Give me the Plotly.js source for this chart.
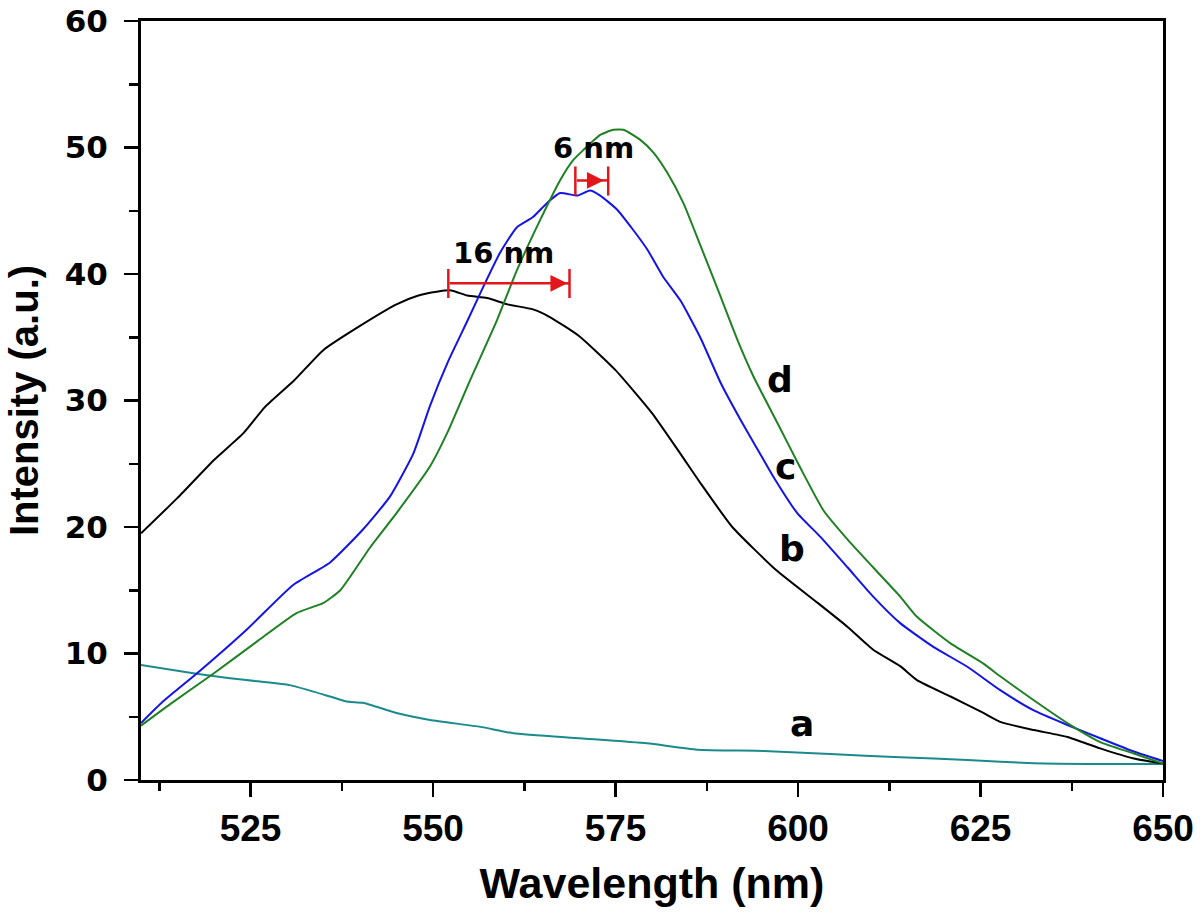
<!DOCTYPE html>
<html>
<head>
<meta charset="utf-8">
<script src="https://cdn.plot.ly/plotly-3.0.1.min.js"></script>
<style>html,body{margin:0;padding:0;background:#fff;}#chart{width:1200px;height:913px;}</style>
</head>
<body>
<div id="chart"></div>
<script>
// Series a (teal)
const wlA = [510, 517.6, 522.2, 526, 530.4, 535.9, 538.2, 540.4, 545, 549.6, 556.5, 561, 570.2, 579.3, 586.2, 595.3, 604.4, 614, 623.2, 632.3, 641.4, 650];
const intA = [9.1, 8.4, 8.05, 7.8, 7.5, 6.6, 6.2, 6.1, 5.3, 4.75, 4.2, 3.7, 3.3, 2.9, 2.4, 2.3, 2.05, 1.8, 1.58, 1.32, 1.26, 1.26];
// Series b (black)
const wlB = [510, 515, 520, 524, 527, 531, 535, 540, 545, 548, 550.5, 552.5, 554.7, 557.4, 560.2, 563.7, 566, 570, 575, 580, 584, 586.6, 591, 597, 602.7, 606.8, 610.3, 614, 616.3, 620.9, 625.4, 627.7, 632.3, 636.9, 641.4, 646, 650];
const intB = [19.5, 22.3, 25.3, 27.4, 29.5, 31.6, 34.0, 35.9, 37.6, 38.3, 38.6, 38.7, 38.3, 38.1, 37.6, 37.2, 36.6, 35.1, 32.4, 29.0, 25.7, 23.5, 20.0, 16.6, 14.0, 12.1, 10.3, 9.0, 7.9, 6.6, 5.3, 4.6, 3.95, 3.4, 2.5, 1.7, 1.3];
// Series c (blue)
const wlC = [510, 513, 517.6, 524.5, 530.8, 535.9, 540.4, 544.1, 547.3, 549.6, 552, 554.8, 556.9, 559.2, 561.5, 563.7, 565.6, 567.4, 569.8, 571.5, 572.9, 575.2, 577.4, 579.4, 581.5, 583.9, 586.6, 589.4, 592.1, 594.8, 596.6, 599.9, 603.1, 606.8, 610.3, 614, 618.6, 623.2, 627.7, 632.3, 636.9, 641.4, 646, 650];
const intC = [4.5, 6.2, 8.4, 11.9, 15.4, 17.2, 19.8, 22.4, 25.8, 29.6, 33.0, 36.4, 39.0, 41.7, 43.7, 44.5, 45.6, 46.4, 46.2, 46.6, 46.2, 45.1, 43.5, 41.9, 39.8, 37.9, 35.0, 31.4, 28.5, 25.8, 24.0, 21.1, 19.2, 16.8, 14.5, 12.4, 10.5, 8.95, 7.1, 5.5, 4.35, 3.3, 2.25, 1.5];
// Series d (green)
const wlD = [510, 514, 519.9, 526, 531.3, 535, 537.3, 541.4, 545, 549.6, 552, 555, 558.8, 561.5, 564.7, 567.4, 569.2, 570.6, 572.9, 574.7, 576.1, 578.4, 580.2, 582.1, 584.3, 586.6, 589, 591.7, 593.9, 597.2, 600.3, 603.5, 606.8, 610.3, 614, 616.3, 620.9, 625.4, 627.7, 632.3, 636.9, 641.4, 646, 650];
const intD = [4.3, 6.0, 8.4, 11.0, 13.2, 14.0, 15.0, 18.4, 21.1, 24.8, 27.5, 31.5, 36.4, 40.3, 44.3, 47.4, 49.0, 49.8, 51.0, 51.4, 51.4, 50.6, 49.6, 48.0, 45.6, 42.3, 38.8, 34.8, 31.9, 28.2, 24.7, 21.3, 19.0, 16.8, 14.5, 12.9, 10.8, 9.2, 8.2, 6.3, 4.5, 3.0, 2.1, 1.3];

const seriesLabels = ['a', 'b', 'c', 'd'];
const shiftLabels = ['16 nm', '6 nm'];

const mk = (x, y, c) => ({x: x, y: y, type: 'scatter', mode: 'lines', line: {color: c, width: 2, shape: 'spline', smoothing: 0.5}, hoverinfo: 'skip', showlegend: false});
const data = [
  mk(wlA, intA, '#1b8a8c'),
  mk(wlB, intB, '#000000'),
  mk(wlC, intC, '#1414e6'),
  mk(wlD, intD, '#1f8024')
];

const red = '#e3161c';
const arial = 'Liberation Sans, Arial, sans-serif';
const wide = 'DejaVu Sans, sans-serif';

const labelPos = [[600.6, 4.5], [599.2, 18.3], [598.3, 24.8], [597.6, 31.7]];
const annotations = seriesLabels.map((t, i) => ({
  x: labelPos[i][0], y: labelPos[i][1], xref: 'x', yref: 'y', text: '<b>' + t + '</b>', showarrow: false,
  font: {family: wide, size: 36, color: '#000'}
}));
annotations.push({x: 559.7, y: 41.7, xref: 'x', yref: 'y', text: '<b>' + shiftLabels[0] + '</b>', showarrow: false, font: {family: wide, size: 29, color: '#000'}});
annotations.push({x: 572.0, y: 50.0, xref: 'x', yref: 'y', text: '<b>' + shiftLabels[1] + '</b>', showarrow: false, font: {family: wide, size: 29, color: '#000'}});
// arrows
annotations.push({x: 568.4, y: 39.26, ax: 552.1, ay: 39.26, xref: 'x', yref: 'y', axref: 'x', ayref: 'y', text: '', showarrow: true, arrowhead: 2, arrowsize: 1.35, arrowwidth: 2.5, arrowcolor: red, standoff: 0});
annotations.push({x: 573.4, y: 47.4, ax: 569.5, ay: 47.4, xref: 'x', yref: 'y', axref: 'x', ayref: 'y', text: '', showarrow: true, arrowhead: 2, arrowsize: 1.35, arrowwidth: 2.5, arrowcolor: red, standoff: 0});

const cap = (x, y0, y1) => ({type: 'line', xref: 'x', yref: 'y', x0: x, x1: x, y0: y0, y1: y1, line: {color: red, width: 2.5}});
const shapes = [
  cap(552.1, 38.1, 40.4), cap(568.7, 38.1, 40.4),
  {type: 'line', xref: 'x', yref: 'y', x0: 567, x1: 568.7, y0: 39.26, y1: 39.26, line: {color: red, width: 2.5}},
  cap(569.5, 46.2, 48.5), cap(574.0, 46.2, 48.5),
  {type: 'line', xref: 'x', yref: 'y', x0: 573, x1: 574.0, y0: 47.4, y1: 47.4, line: {color: red, width: 2.5}}
];

const layout = {
  width: 1200, height: 913,
  margin: {l: 141, r: 37, t: 21, b: 133},
  paper_bgcolor: '#fff', plot_bgcolor: '#fff',
  showlegend: false,
  xaxis: {
    range: [510, 650], dtick: 25, tick0: 500,
    showgrid: false, zeroline: false,
    showline: true, linewidth: 3, linecolor: '#000', mirror: true,
    ticks: 'outside', ticklen: 14, tickwidth: 2.5, tickcolor: '#000',
    minor: {dtick: 12.5, ticks: 'outside', ticklen: 8, tickwidth: 2.5, tickcolor: '#000'},
    tickfont: {family: arial, size: 37, color: '#000', weight: 'bold'},
    ticklabeloverflow: 'allow',
    title: {text: '<b>Wavelength (nm)</b>', font: {family: arial, size: 43, color: '#000'}, standoff: 20}
  },
  yaxis: {
    range: [0, 60], dtick: 10,
    showgrid: false, zeroline: false,
    showline: true, linewidth: 3, linecolor: '#000', mirror: true,
    ticks: 'outside', ticklen: 14, tickwidth: 2.5, tickcolor: '#000',
    minor: {dtick: 5, ticks: 'outside', ticklen: 9, tickwidth: 2.5, tickcolor: '#000'},
    tickfont: {family: wide, size: 31, color: '#000', weight: 'bold'},
    ticklabelstandoff: 10,
    title: {text: '<b>Intensity (a.u.)</b>', font: {family: arial, size: 40, color: '#000'}, standoff: 14}
  },
  annotations: annotations,
  shapes: shapes
};

Plotly.newPlot('chart', data, layout, {displayModeBar: false, staticPlot: true});
</script>
</body>
</html>
